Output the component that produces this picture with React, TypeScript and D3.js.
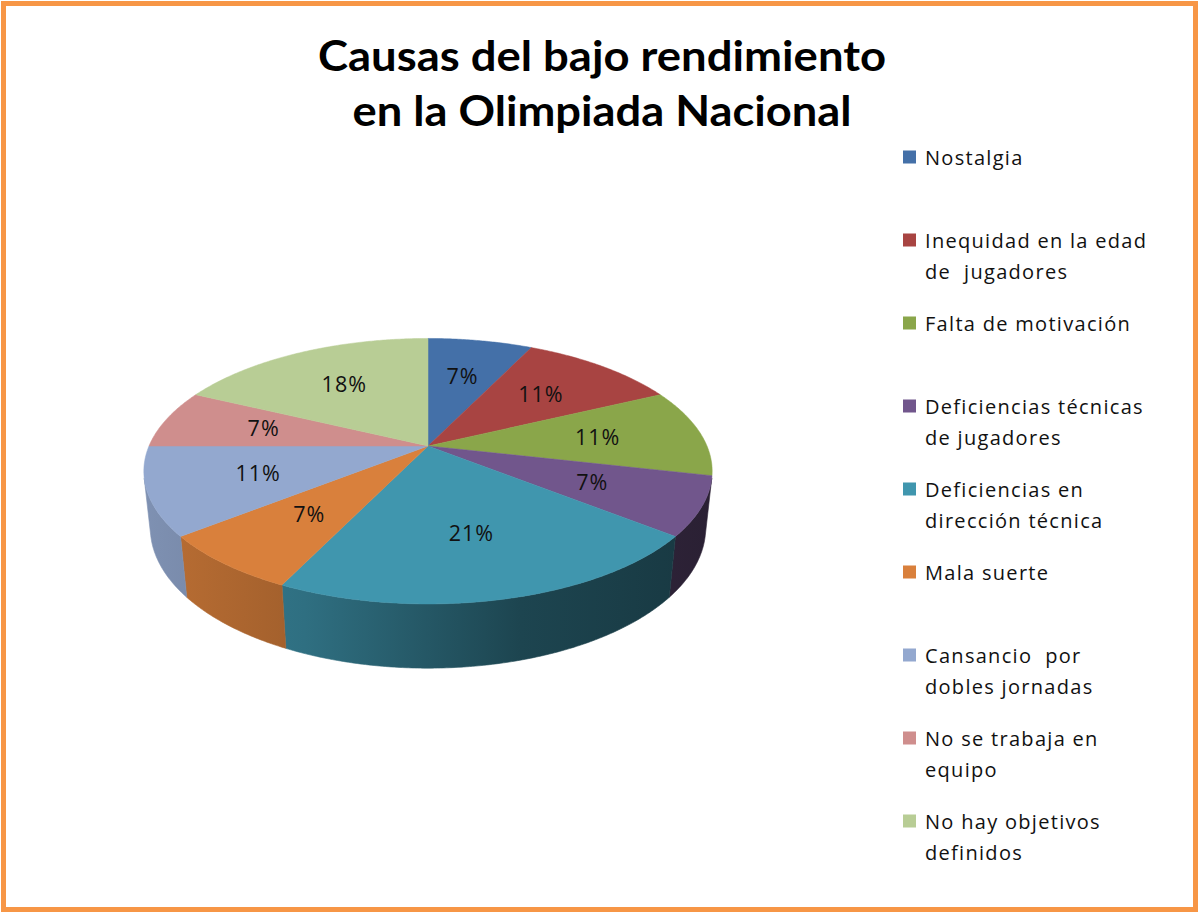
import { useEffect, useRef } from 'react'
import * as d3 from 'd3'

// Causas del bajo rendimiento (respuestas, total 28)
const categories = [
  'Nostalgia',
  'Inequidad en la edad de  jugadores',
  'Falta de motivación',
  'Deficiencias técnicas de jugadores',
  'Deficiencias en dirección técnica',
  'Mala suerte',
  'Cansancio  por dobles jornadas',
  'No se trabaja en equipo',
  'No hay objetivos definidos',
]
const legendLines = [
  ['Nostalgia'],
  ['Inequidad en la edad', 'de  jugadores'],
  ['Falta de motivación'],
  ['Deficiencias técnicas', 'de jugadores'],
  ['Deficiencias en', 'dirección técnica'],
  ['Mala suerte'],
  ['Cansancio  por', 'dobles jornadas'],
  ['No se trabaja en', 'equipo'],
  ['No hay objetivos', 'definidos'],
]
const values = [2, 3, 3, 2, 6, 2, 3, 2, 5]
const colors = [
  '#4470a8', '#a84442', '#8aa64a', '#71568c', '#4096ae',
  '#d9803c', '#93a8cf', '#cf8e8d', '#b8cd95',
]
const titleLines = ['Causas del bajo rendimiento', 'en la Olimpiada Nacional']

const W = 1199
const H = 913
const FONT = '"Open Sans", Lato, sans-serif'

export default function App() {
  const svgRef = useRef<SVGSVGElement | null>(null)

  useEffect(() => {
    document.body.style.margin = '0'
    if (!svgRef.current) return
    const svg = d3.select(svgRef.current)
    svg.selectAll('*').remove()

    // frame
    svg.append('rect')
      .attr('x', 3.5).attr('y', 3.5)
      .attr('width', W - 7).attr('height', H - 7)
      .attr('fill', '#fff')
      .attr('stroke', '#f79646').attr('stroke-width', 5)

    // title
    const title = svg.append('text')
      .attr('text-anchor', 'middle')
      .attr('font-family', 'Lato, "Open Sans", sans-serif')
      .attr('font-weight', 700)
      .attr('font-size', 42)
      .attr('fill', '#000')
    const titleWidths = [568, 499]
    titleLines.forEach((line, i) => {
      title.append('tspan')
        .attr('x', 602)
        .attr('y', 71 + i * 55)
        .attr('textLength', titleWidths[i])
        .attr('lengthAdjust', 'spacingAndGlyphs')
        .text(line)
    })

    // 3D pie projection
    const cx = 428, cy = 446, R = 279
    const elev = (27.3 * Math.PI) / 180
    const D = 4.68
    const thick = 0.23
    const project = (theta: number, r: number, z: number): [number, number] => {
      const x = r * Math.sin(theta)
      const y = r * Math.cos(theta)
      const v = y * Math.sin(elev) + z * Math.cos(elev)
      const w = y * Math.cos(elev) - z * Math.sin(elev)
      const k = D / (D + w)
      return [cx + R * x * k, cy - R * v * k]
    }

    const pie = d3.pie<number>().sort(null).value(d => d)
    const arcs = pie(values)
    const total = d3.sum(values)
    const pct = d3.format('.0%')
    const line = d3.line()

    const defs = svg.append('defs')
    colors.forEach((c, i) => {
      const grad = defs.append('linearGradient')
        .attr('id', `wall-${i}`)
        .attr('gradientUnits', 'userSpaceOnUse')
        .attr('x1', cx - R * 1.1).attr('x2', cx + R * 1.1)
        .attr('y1', 0).attr('y2', 0)
      grad.append('stop').attr('offset', '0%').attr('stop-color', d3.interpolateRgb('#000', c)(0.88))
      grad.append('stop').attr('offset', '30%').attr('stop-color', d3.interpolateRgb('#000', c)(0.74))
      grad.append('stop').attr('offset', '65%').attr('stop-color', d3.interpolateRgb('#000', c)(0.46))
      grad.append('stop').attr('offset', '100%').attr('stop-color', d3.interpolateRgb('#000', c)(0.36))
    })

    const step = Math.PI / 360
    const visLimit = Math.acos(-1 / (D * Math.cos(elev)))
    const gWalls = svg.append('g')
    const gTop = svg.append('g')
    const gLabels = svg.append('g')

    arcs.forEach((a, i) => {
      // wall (front-visible part)
      const a0 = Math.max(a.startAngle, visLimit)
      const a1 = Math.min(a.endAngle, 2 * Math.PI - visLimit)
      if (a1 > a0) {
        const n = Math.max(2, Math.ceil((a1 - a0) / step))
        const topPts: [number, number][] = []
        const botPts: [number, number][] = []
        for (let j = 0; j <= n; j++) {
          const t = a0 + ((a1 - a0) * j) / n
          topPts.push(project(t, 1, 0))
          botPts.push(project(t, 1, -thick))
        }
        gWalls.append('path')
          .attr('d', line(topPts.concat(botPts.reverse())) + 'Z')
          .attr('fill', `url(#wall-${i})`)
          .attr('stroke', `url(#wall-${i})`).attr('stroke-width', 0.6)
      }

      // top face
      const n = Math.max(2, Math.ceil((a.endAngle - a.startAngle) / step))
      const pts: [number, number][] = [project(0, 0, 0)]
      for (let j = 0; j <= n; j++) {
        pts.push(project(a.startAngle + ((a.endAngle - a.startAngle) * j) / n, 1, 0))
      }
      gTop.append('path')
        .attr('d', line(pts) + 'Z')
        .attr('fill', colors[i])
        .attr('stroke', colors[i]).attr('stroke-width', 0.5)

      // percentage label
      const mid = (a.startAngle + a.endAngle) / 2
      const [lx, ly] = project(mid, 0.62, 0)
      gLabels.append('text')
        .attr('x', lx).attr('y', ly + 7.5)
        .attr('text-anchor', 'middle')
        .attr('font-family', FONT)
        .attr('font-size', 21.5)
        .attr('letter-spacing', 1)
        .attr('fill', '#111')
        .text(pct(a.data / total))
    })

    // legend
    const legend = svg.append('g')
    categories.forEach((cat, i) => {
      const yc = 157 + i * 83
      const g = legend.append('g').attr('data-name', cat)
      g.append('rect')
        .attr('x', 903).attr('y', yc - 6.5)
        .attr('width', 13).attr('height', 13)
        .attr('fill', colors[i])
      const txt = g.append('text')
        .attr('font-family', FONT)
        .attr('font-size', 20)
        .attr('letter-spacing', 1.3)
        .attr('fill', '#111')
        .style('white-space', 'pre')
      legendLines[i].forEach((l, k) => {
        txt.append('tspan').attr('x', 925).attr('y', yc + 7.5 + k * 31.5).text(l)
      })
    })
  }, [])

  return (
    <svg
      ref={svgRef}
      width={W}
      height={H}
      style={{ display: 'block', position: 'absolute', left: 0, top: 0 }}
    />
  )
}
